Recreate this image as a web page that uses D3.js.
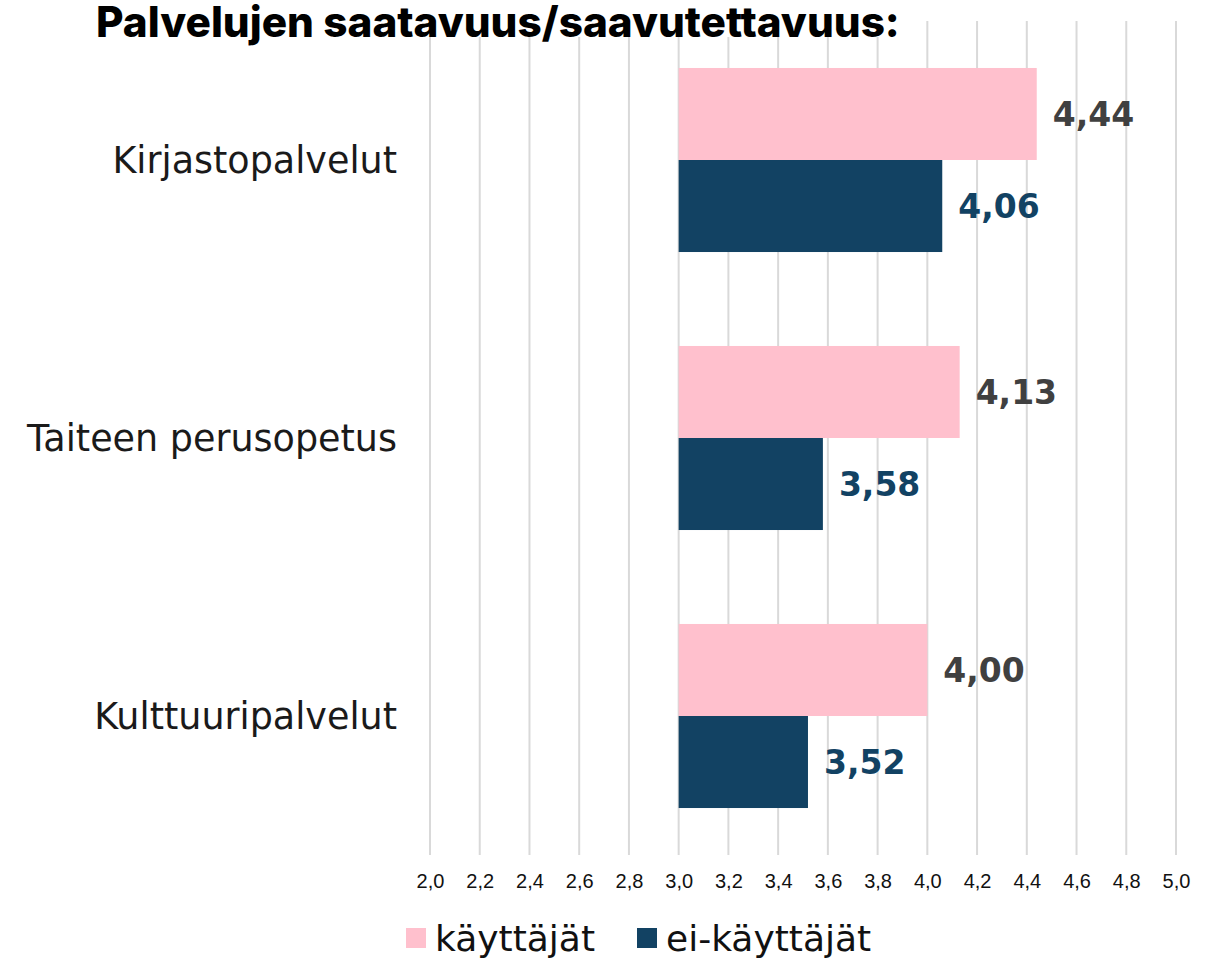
<!DOCTYPE html>
<html>
<head>
<meta charset="utf-8">
<script src="https://cdn.jsdelivr.net/npm/d3@7"></script>
<style>
	body { margin: 0; background: #fff; }
	svg { display: block; }
</style>
</head>
<body>
<svg id="chart" width="1221" height="958"></svg>
<script>
var categories = ["Kirjastopalvelut", "Taiteen perusopetus", "Kulttuuripalvelut"];
var seriesNames = ["käyttäjät", "ei-käyttäjät"];
var kayttajat = [4.44, 4.13, 4.00];
var eiKayttajat = [4.06, 3.58, 3.52];
var tickValues = [2.0, 2.2, 2.4, 2.6, 2.8, 3.0, 3.2, 3.4, 3.6, 3.8, 4.0, 4.2, 4.4, 4.6, 4.8, 5.0];
var titleText = "Palvelujen saatavuus/saavutettavuus:";

buildChart();

function buildChart() {
	var svg = d3.select("#chart");

	var colors = ["#ffc0cd", "#124263"];
	var labelColors = ["#404040", "#124263"];
	var baseValue = 3.0;

	var x = d3.scaleLinear()
		.domain([2.0, 5.0])
		.range([430, 1176]);

	var y = d3.scaleBand()
		.domain(categories)
		.range([21, 855])
		.paddingInner(0.338)
		.paddingOuter(0.169);

	var sub = d3.scaleBand()
		.domain([0, 1])
		.range([0, y.bandwidth()]);

	// gridlines
	svg.append("g")
		.attr("class", "grid")
		.selectAll("line")
		.data(tickValues)
		.enter().append("line")
			.attr("x1", function(d) { return x(d); })
			.attr("x2", function(d) { return x(d); })
			.attr("y1", 21)
			.attr("y2", 855)
			.attr("stroke", "#d9d9d9")
			.attr("stroke-width", 2);

	// tick labels
	var axis = d3.axisBottom(x)
		.tickValues(tickValues)
		.tickSize(0)
		.tickPadding(0)
		.tickFormat(function(d) { return d3.format(".1f")(d).replace(".", ","); });

	var axisG = svg.append("g")
		.attr("transform", "translate(0,874)")
		.call(axis);
	axisG.select(".domain").remove();
	axisG.selectAll("text")
		.attr("font-family", "'Liberation Sans', Arial, sans-serif")
		.attr("font-size", 20)
		.attr("fill", "#111");

	var rows = categories.map(function(c, i) {
		return { cat: c, vals: [kayttajat[i], eiKayttajat[i]] };
	});

	var groups = svg.append("g").selectAll("g")
		.data(rows)
		.enter().append("g")
			.attr("transform", function(d) { return "translate(0," + y(d.cat) + ")"; });

	groups.selectAll("rect")
		.data(function(d) { return d.vals; })
		.enter().append("rect")
			.attr("x", x(baseValue))
			.attr("y", function(d, i) { return sub(i); })
			.attr("width", function(d) { return x(d) - x(baseValue); })
			.attr("height", sub.bandwidth())
			.attr("fill", function(d, i) { return colors[i]; });

	groups.selectAll("text.val")
		.data(function(d) { return d.vals; })
		.enter().append("text")
			.attr("class", "val")
			.attr("x", function(d) { return x(d) + 16; })
			.attr("y", function(d, i) { return sub(i) + sub.bandwidth() / 2; })
			.attr("dy", "0.36em")
			.attr("font-family", "'DejaVu Sans', sans-serif")
			.attr("font-weight", "bold")
			.attr("font-size", 33)
			.attr("fill", function(d, i) { return labelColors[i]; })
			.text(function(d) { return d3.format(".2f")(d).replace(".", ","); });

	// category labels
	svg.append("g").selectAll("text")
		.data(categories)
		.enter().append("text")
			.attr("x", 397)
			.attr("y", function(d) { return y(d) + y.bandwidth() / 2; })
			.attr("dy", "0.36em")
			.attr("text-anchor", "end")
			.attr("font-family", "'DejaVu Sans', sans-serif")
			.attr("font-size", 36.5)
			.attr("fill", "#1a1a1a")
			.text(function(d) { return d; });

	// title with white backing
	var titleBack = svg.append("rect").attr("fill", "#fff");
	var title = svg.append("text")
		.attr("x", 96)
		.attr("y", 37)
		.attr("font-family", "Inter, 'Liberation Sans', sans-serif")
		.attr("font-weight", 800)
		.attr("font-size", 38)
		.attr("fill", "#000")
		.text(titleText);
	var tw = title.node().getComputedTextLength();
	title.attr("font-size", 38 * 804 / tw);
	var bb = title.node().getBBox();
	titleBack
		.attr("x", bb.x - 4)
		.attr("y", 0)
		.attr("width", bb.width + 8)
		.attr("height", 37);

	// legend
	var legend = svg.append("g").attr("transform", "translate(0,938)");
	var legendX = [406, 637];
	seriesNames.forEach(function(name, i) {
		legend.append("rect")
			.attr("x", legendX[i])
			.attr("y", -10)
			.attr("width", 20)
			.attr("height", 20)
			.attr("fill", colors[i]);
		legend.append("text")
			.attr("x", legendX[i] + 29)
			.attr("y", 0)
			.attr("dy", "0.36em")
			.attr("font-family", "'DejaVu Sans', sans-serif")
			.attr("font-size", 36)
			.attr("fill", "#111")
			.text(name);
	});
}
</script>
</body>
</html>
